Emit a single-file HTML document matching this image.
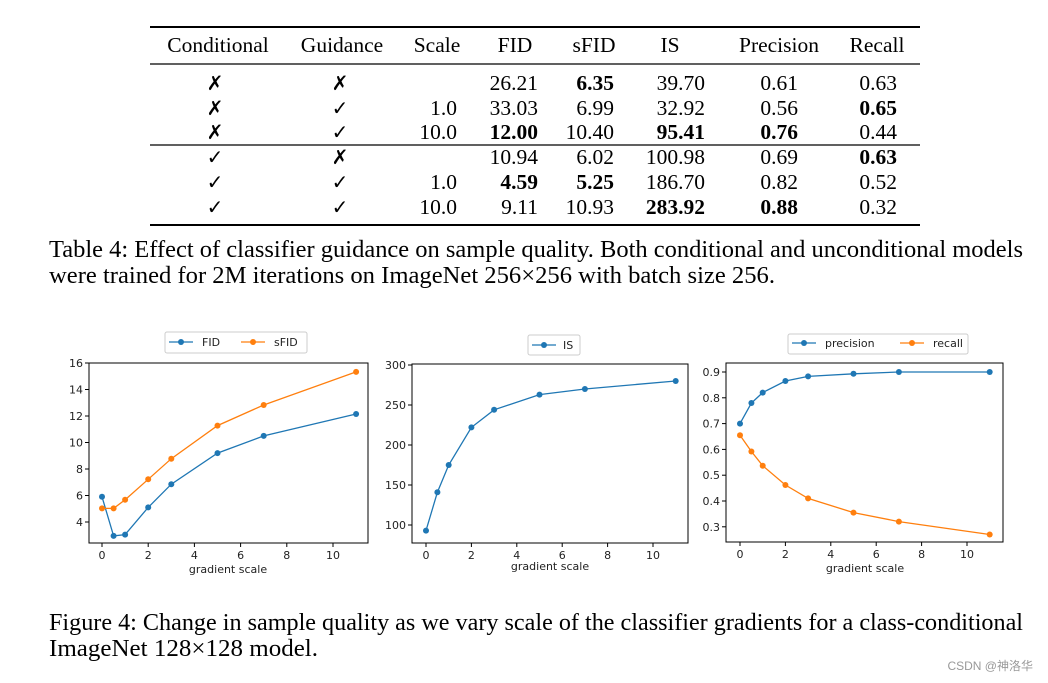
<!DOCTYPE html>
<html><head><meta charset="utf-8"><style>body{margin:0;background:#fff}svg{display:block}</style></head><body>
<svg width="1048" height="683" xmlns="http://www.w3.org/2000/svg">
<g font-family="Liberation Serif, serif" font-size="21.5" fill="#000">
<line x1="150" y1="27" x2="920" y2="27" stroke="#000" stroke-width="2"/>
<line x1="150" y1="64" x2="920" y2="64" stroke="#000" stroke-width="1.2"/>
<line x1="150" y1="145" x2="920" y2="145" stroke="#000" stroke-width="1.2"/>
<line x1="150" y1="225" x2="920" y2="225" stroke="#000" stroke-width="2"/>
<g text-anchor="middle">
<text x="218" y="52">Conditional</text><text x="342" y="52">Guidance</text><text x="437" y="52">Scale</text><text x="515" y="52">FID</text><text x="594" y="52">sFID</text><text x="670" y="52">IS</text><text x="779" y="52">Precision</text><text x="877" y="52">Recall</text>
<g font-family="DejaVu Sans, sans-serif" font-size="20" font-weight="bold">
<text x="215" y="90">✗</text><text x="340" y="90">✗</text>
<text x="215" y="115">✗</text><text x="340" y="115">✓</text>
<text x="215" y="139">✗</text><text x="340" y="139">✓</text>
<text x="215" y="164">✓</text><text x="340" y="164">✗</text>
<text x="215" y="189">✓</text><text x="340" y="189">✓</text>
<text x="215" y="214">✓</text><text x="340" y="214">✓</text>
</g></g>
<g text-anchor="end">
<text x="538" y="90">26.21</text><text x="614" y="90" font-weight="bold">6.35</text><text x="705" y="90">39.70</text><text x="798" y="90">0.61</text><text x="897" y="90">0.63</text>
<text x="457" y="115">1.0</text><text x="538" y="115">33.03</text><text x="614" y="115">6.99</text><text x="705" y="115">32.92</text><text x="798" y="115">0.56</text><text x="897" y="115" font-weight="bold">0.65</text>
<text x="457" y="139">10.0</text><text x="538" y="139" font-weight="bold">12.00</text><text x="614" y="139">10.40</text><text x="705" y="139" font-weight="bold">95.41</text><text x="798" y="139" font-weight="bold">0.76</text><text x="897" y="139">0.44</text>
<text x="538" y="164">10.94</text><text x="614" y="164">6.02</text><text x="705" y="164">100.98</text><text x="798" y="164">0.69</text><text x="897" y="164" font-weight="bold">0.63</text>
<text x="457" y="189">1.0</text><text x="538" y="189" font-weight="bold">4.59</text><text x="614" y="189" font-weight="bold">5.25</text><text x="705" y="189">186.70</text><text x="798" y="189">0.82</text><text x="897" y="189">0.52</text>
<text x="457" y="214">10.0</text><text x="538" y="214">9.11</text><text x="614" y="214">10.93</text><text x="705" y="214" font-weight="bold">283.92</text><text x="798" y="214" font-weight="bold">0.88</text><text x="897" y="214">0.32</text>
</g>
<text x="49" y="257" font-size="24" textLength="974" lengthAdjust="spacingAndGlyphs">Table 4: Effect of classifier guidance on sample quality. Both conditional and unconditional models</text>
<text x="49" y="283" font-size="24" textLength="726" lengthAdjust="spacingAndGlyphs">were trained for 2M iterations on ImageNet 256×256 with batch size 256.</text>
<text x="49" y="630" font-size="24" textLength="974" lengthAdjust="spacingAndGlyphs">Figure 4: Change in sample quality as we vary scale of the classifier gradients for a class-conditional</text>
<text x="49" y="656" font-size="24" textLength="269" lengthAdjust="spacingAndGlyphs">ImageNet 128×128 model.</text>
</g>
<text x="1033" y="670" font-family="Liberation Sans, Noto Sans CJK SC, sans-serif" font-size="12" fill="#999" text-anchor="end">CSDN @神洛华</text>

<g font-family="DejaVu Sans, sans-serif" font-size="11" fill="#222">
<!-- chart 1 -->
<rect x="89" y="363" width="279" height="180" fill="none" stroke="#000" stroke-width="1"/>
<g stroke="#000"><line x1="102" y1="543" x2="102" y2="547"/><line x1="148.2" y1="543" x2="148.2" y2="547"/><line x1="194.4" y1="543" x2="194.4" y2="547"/><line x1="240.6" y1="543" x2="240.6" y2="547"/><line x1="286.8" y1="543" x2="286.8" y2="547"/><line x1="333" y1="543" x2="333" y2="547"/>
<line x1="85" y1="522" x2="89" y2="522"/><line x1="85" y1="495.5" x2="89" y2="495.5"/><line x1="85" y1="469" x2="89" y2="469"/><line x1="85" y1="442.5" x2="89" y2="442.5"/><line x1="85" y1="416" x2="89" y2="416"/><line x1="85" y1="389.5" x2="89" y2="389.5"/><line x1="85" y1="363" x2="89" y2="363"/></g>
<g text-anchor="middle"><text x="102" y="559">0</text><text x="148.2" y="559">2</text><text x="194.4" y="559">4</text><text x="240.6" y="559">6</text><text x="286.8" y="559">8</text><text x="333" y="559">10</text><text x="228" y="573">gradient scale</text></g>
<g text-anchor="end"><text x="83" y="526">4</text><text x="83" y="499.5">6</text><text x="83" y="473">8</text><text x="83" y="446.5">10</text><text x="83" y="420">12</text><text x="83" y="393.5">14</text><text x="83" y="367">16</text></g>
<polyline fill="none" stroke="#1f77b4" stroke-width="1.3" points="102,496.8 113.6,535.9 125.1,534.6 148.2,507.4 171.3,484.2 217.5,453.1 263.7,435.9 356.1,414"/>
<g fill="#1f77b4"><circle cx="102" cy="496.8" r="3"/><circle cx="113.6" cy="535.9" r="3"/><circle cx="125.1" cy="534.6" r="3"/><circle cx="148.2" cy="507.4" r="3"/><circle cx="171.3" cy="484.2" r="3"/><circle cx="217.5" cy="453.1" r="3"/><circle cx="263.7" cy="435.9" r="3"/><circle cx="356.1" cy="414" r="3"/></g>
<polyline fill="none" stroke="#ff7f0e" stroke-width="1.3" points="102,508.4 113.6,508.4 125.1,499.8 148.2,479.3 171.3,458.7 217.5,425.6 263.7,405 356.1,371.9"/>
<g fill="#ff7f0e"><circle cx="102" cy="508.4" r="3"/><circle cx="113.6" cy="508.4" r="3"/><circle cx="125.1" cy="499.8" r="3"/><circle cx="148.2" cy="479.3" r="3"/><circle cx="171.3" cy="458.7" r="3"/><circle cx="217.5" cy="425.6" r="3"/><circle cx="263.7" cy="405" r="3"/><circle cx="356.1" cy="371.9" r="3"/></g>
<rect x="165" y="332" width="142" height="21" rx="2" fill="#fff" stroke="#ccc"/>
<line x1="169" y1="342" x2="193" y2="342" stroke="#1f77b4" stroke-width="1.3"/><circle cx="181" cy="342" r="3" fill="#1f77b4"/><text x="202" y="346">FID</text>
<line x1="241" y1="342" x2="265" y2="342" stroke="#ff7f0e" stroke-width="1.3"/><circle cx="253" cy="342" r="3" fill="#ff7f0e"/><text x="274" y="346">sFID</text>

<!-- chart 2 -->
<rect x="412" y="364" width="276" height="179" fill="none" stroke="#000" stroke-width="1"/>
<g stroke="#000"><line x1="426" y1="543" x2="426" y2="547"/><line x1="471.4" y1="543" x2="471.4" y2="547"/><line x1="516.8" y1="543" x2="516.8" y2="547"/><line x1="562.2" y1="543" x2="562.2" y2="547"/><line x1="607.6" y1="543" x2="607.6" y2="547"/><line x1="653" y1="543" x2="653" y2="547"/>
<line x1="408" y1="525" x2="412" y2="525"/><line x1="408" y1="485" x2="412" y2="485"/><line x1="408" y1="445" x2="412" y2="445"/><line x1="408" y1="405" x2="412" y2="405"/><line x1="408" y1="365" x2="412" y2="365"/></g>
<g text-anchor="middle"><text x="426" y="559">0</text><text x="471.4" y="559">2</text><text x="516.8" y="559">4</text><text x="562.2" y="559">6</text><text x="607.6" y="559">8</text><text x="653" y="559">10</text><text x="550" y="570">gradient scale</text></g>
<g text-anchor="end"><text x="406" y="529">100</text><text x="406" y="489">150</text><text x="406" y="449">200</text><text x="406" y="409">250</text><text x="406" y="369">300</text></g>
<polyline fill="none" stroke="#1f77b4" stroke-width="1.3" points="426,530.6 437.4,492.2 448.7,465 471.4,427.4 494.1,409.8 539.5,394.6 584.9,389 675.7,381"/>
<g fill="#1f77b4"><circle cx="426" cy="530.6" r="3"/><circle cx="437.4" cy="492.2" r="3"/><circle cx="448.7" cy="465" r="3"/><circle cx="471.4" cy="427.4" r="3"/><circle cx="494.1" cy="409.8" r="3"/><circle cx="539.5" cy="394.6" r="3"/><circle cx="584.9" cy="389" r="3"/><circle cx="675.7" cy="381" r="3"/></g>
<rect x="528" y="335" width="52" height="20" rx="2" fill="#fff" stroke="#ccc"/>
<line x1="532" y1="345" x2="556" y2="345" stroke="#1f77b4" stroke-width="1.3"/><circle cx="544" cy="345" r="3" fill="#1f77b4"/><text x="563" y="349">IS</text>

<!-- chart 3 -->
<rect x="726" y="363" width="277" height="179" fill="none" stroke="#000" stroke-width="1"/>
<g stroke="#000"><line x1="740" y1="542" x2="740" y2="546"/><line x1="785.4" y1="542" x2="785.4" y2="546"/><line x1="830.8" y1="542" x2="830.8" y2="546"/><line x1="876.2" y1="542" x2="876.2" y2="546"/><line x1="921.6" y1="542" x2="921.6" y2="546"/><line x1="967" y1="542" x2="967" y2="546"/>
<line x1="722" y1="372" x2="726" y2="372"/><line x1="722" y1="397.8" x2="726" y2="397.8"/><line x1="722" y1="423.6" x2="726" y2="423.6"/><line x1="722" y1="449.4" x2="726" y2="449.4"/><line x1="722" y1="475.2" x2="726" y2="475.2"/><line x1="722" y1="501" x2="726" y2="501"/><line x1="722" y1="526.8" x2="726" y2="526.8"/></g>
<g text-anchor="middle"><text x="740" y="558">0</text><text x="785.4" y="558">2</text><text x="830.8" y="558">4</text><text x="876.2" y="558">6</text><text x="921.6" y="558">8</text><text x="967" y="558">10</text><text x="865" y="572">gradient scale</text></g>
<g text-anchor="end"><text x="720" y="376">0.9</text><text x="720" y="401.8">0.8</text><text x="720" y="427.6">0.7</text><text x="720" y="453.4">0.6</text><text x="720" y="479.2">0.5</text><text x="720" y="505">0.4</text><text x="720" y="530.8">0.3</text></g>
<polyline fill="none" stroke="#1f77b4" stroke-width="1.3" points="740,423.6 751.4,403 762.7,392.6 785.4,381 808.1,376.4 853.5,373.8 898.9,372 989.7,372"/>
<g fill="#1f77b4"><circle cx="740" cy="423.6" r="3"/><circle cx="751.4" cy="403" r="3"/><circle cx="762.7" cy="392.6" r="3"/><circle cx="785.4" cy="381" r="3"/><circle cx="808.1" cy="376.4" r="3"/><circle cx="853.5" cy="373.8" r="3"/><circle cx="898.9" cy="372" r="3"/><circle cx="989.7" cy="372" r="3"/></g>
<polyline fill="none" stroke="#ff7f0e" stroke-width="1.3" points="740,435.2 751.4,451.5 762.7,465.7 785.4,485 808.1,498.4 853.5,512.6 898.9,521.6 989.7,534.5"/>
<g fill="#ff7f0e"><circle cx="740" cy="435.2" r="3"/><circle cx="751.4" cy="451.5" r="3"/><circle cx="762.7" cy="465.7" r="3"/><circle cx="785.4" cy="485" r="3"/><circle cx="808.1" cy="498.4" r="3"/><circle cx="853.5" cy="512.6" r="3"/><circle cx="898.9" cy="521.6" r="3"/><circle cx="989.7" cy="534.5" r="3"/></g>
<rect x="788" y="334" width="180" height="20" rx="2" fill="#fff" stroke="#ccc"/>
<line x1="792" y1="343" x2="816" y2="343" stroke="#1f77b4" stroke-width="1.3"/><circle cx="804" cy="343" r="3" fill="#1f77b4"/><text x="825" y="347">precision</text>
<line x1="900" y1="343" x2="924" y2="343" stroke="#ff7f0e" stroke-width="1.3"/><circle cx="912" cy="343" r="3" fill="#ff7f0e"/><text x="933" y="347">recall</text>
</g>
</svg>
</body></html>
